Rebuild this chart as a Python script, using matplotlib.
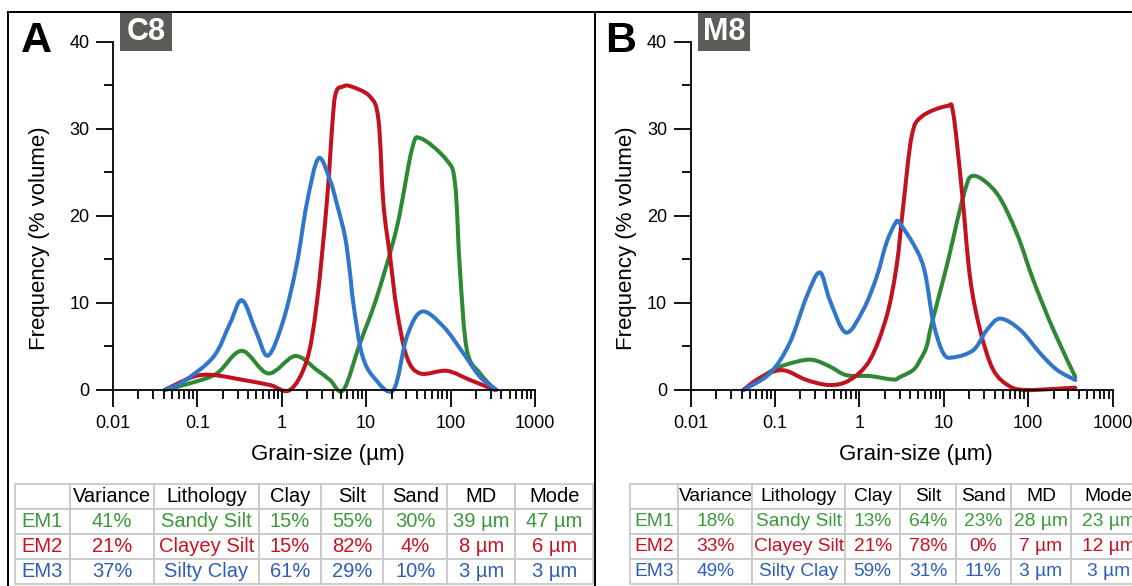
import matplotlib
matplotlib.use('Agg')
import numpy as np
import matplotlib.pyplot as plt
from matplotlib.lines import Line2D
from matplotlib.patches import Rectangle, PathPatch
from matplotlib.path import Path
from matplotlib.ticker import FixedLocator, FixedFormatter, LogLocator, NullFormatter, MultipleLocator

plt.rcParams['font.family'] = ['Liberation Sans', 'DejaVu Sans']

# ---------------------------------------------------------------
# Data (grain size in um, frequency in % volume)
# ---------------------------------------------------------------
# Panel A, core C8
a_em1_x = [0.041, 0.082, 0.170, 0.336, 0.69, 1.44, 2.60, 3.73, 5.37, 8.47, 13.4, 23.1, 34.8, 44.4, 90, 113, 129, 156, 224, 337]
a_em1_y = [0, 0.77, 1.9, 4.5, 1.9, 3.9, 2.3, 1.15, 0, 5.4, 10.7, 18.7, 27.6, 28.9, 26.4, 23.7, 13.8, 4.6, 1.9, 0]
a_em2_x = [0.041, 0.090, 0.155, 0.351, 0.726, 1.25, 1.98, 2.60, 3.41, 4.09, 4.49, 5.14, 6.44, 11.1, 14.0, 16.0, 19.2, 23.1, 30.3, 43.6, 90, 170, 337]
a_em2_y = [0, 1.53, 1.72, 1.15, 0.57, 0, 3.4, 9.95, 21.4, 32.1, 34.4, 34.8, 34.9, 33.7, 31.0, 21.4, 15.3, 9.2, 3.8, 1.9, 2.2, 1.15, 0]
a_em3_x = [0.041, 0.068, 0.155, 0.244, 0.34, 0.506, 0.69, 1.045, 1.51, 1.98, 2.72, 3.73, 4.49, 5.62, 6.44, 7.05, 8.87, 12.2, 21, 30.3, 45.6, 82, 142, 224, 352]
a_em3_y = [0, 0.96, 3.8, 7.65, 10.3, 6.5, 3.95, 8.0, 14.5, 21.4, 26.6, 24.1, 21.4, 17.6, 13.4, 9.95, 4.2, 1.5, 0, 6.1, 9.0, 7.3, 4.2, 1.5, 0]

# Panel B, core M8
b_em1_x = [0.042, 0.0946, 0.180, 0.282, 0.446, 0.702, 1.33, 2.51, 3.03, 4.34, 5.24, 6.25, 7.21, 10.8, 17.0, 22.3, 42.3, 73.1, 115, 199, 361]
b_em1_y = [0, 2.3, 3.25, 3.45, 2.7, 1.7, 1.6, 1.2, 1.5, 2.3, 3.45, 5.0, 7.7, 14.2, 22.2, 24.6, 22.6, 18.0, 12.6, 6.9, 1.5]
b_em2_x = [0.042, 0.0601, 0.0946, 0.136, 0.236, 0.446, 0.769, 1.33, 2.09, 2.75, 3.30, 4.15, 5.46, 10.8, 12.9, 16.3, 20.4, 26.9, 38.6, 61.4, 96, 182, 361]
b_em2_y = [0, 1.15, 2.1, 2.2, 1.15, 0.57, 1.15, 3.45, 8.4, 14.2, 21.1, 29.1, 31.4, 32.6, 31.8, 23.0, 13.0, 6.9, 2.3, 0.38, 0, 0.1, 0.27]
b_em3_x = [0.042, 0.0865, 0.149, 0.236, 0.339, 0.446, 0.689, 1.107, 1.60, 2.09, 2.68, 3.03, 4.75, 6.0, 7.53, 9.89, 13.0, 22.5, 32.4, 46.7, 80.5, 139, 220, 361]
b_em3_y = [0, 1.9, 5.4, 10.7, 13.5, 10.3, 6.6, 9.2, 13.0, 16.9, 19.2, 19.1, 16.1, 13.4, 7.7, 4.2, 3.75, 4.6, 6.9, 8.2, 6.9, 4.2, 2.3, 1.15]

x_tick_vals = [0.01, 0.1, 1, 10, 100, 1000]
x_tick_labels = ['0.01', '0.1', '1', '10', '100', '1000']
y_tick_vals = [0, 10, 20, 30, 40]

table_header = ['', 'Variance', 'Lithology', 'Clay', 'Silt', 'Sand', 'MD', 'Mode']
table_a_rows = [['EM1', '41%', 'Sandy Silt', '15%', '55%', '30%', '39 µm', '47 µm'],
                ['EM2', '21%', 'Clayey Silt', '15%', '82%', '4%', '8 µm', '6 µm'],
                ['EM3', '37%', 'Silty Clay', '61%', '29%', '10%', '3 µm', '3 µm']]
table_b_rows = [['EM1', '18%', 'Sandy Silt', '13%', '64%', '23%', '28 µm', '23 µm'],
                ['EM2', '33%', 'Clayey Silt', '21%', '78%', '0%', '7 µm', '12 µm'],
                ['EM3', '49%', 'Silty Clay', '59%', '31%', '11%', '3 µm', '3 µm']]

LINE_COLORS = ['#2f8834', '#c3121f', '#2f76cc']
TEXT_COLORS = ['#3a9a3a', '#cc1020', '#2c5fba']

W, H = 1132, 586
fig = plt.figure(figsize=(W / 100, H / 100), dpi=100)


def fx(px):
    return px / W


def fy(py):
    return 1 - py / H


def smooth_path(xs, ys):
    # Catmull-Rom style bezier through every read point (in log-x space)
    lx = np.log10(xs)
    y = np.asarray(ys, dtype=float)
    n = len(lx)
    verts = [(lx[0], y[0])]
    codes = [Path.MOVETO]
    for i in range(n - 1):
        i0 = max(i - 1, 0)
        i3 = min(i + 2, n - 1)
        c1 = (lx[i] + (lx[i + 1] - lx[i0]) / 6, y[i] + (y[i + 1] - y[i0]) / 6)
        c2 = (lx[i + 1] - (lx[i3] - lx[i]) / 6, y[i + 1] - (y[i3] - y[i]) / 6)
        verts += [c1, c2, (lx[i + 1], y[i + 1])]
        codes += [Path.CURVE4] * 3
    verts = [(10 ** vx, vy) for vx, vy in verts]
    return Path(verts, codes)


def setup_axes(ax, label_x, xlab_x):
    ax.set_xscale('log')
    ax.set_xlim(0.01, 1000)
    ax.set_ylim(0, 40)
    for s in ['top', 'right']:
        ax.spines[s].set_visible(False)
    for s in ['left', 'bottom']:
        ax.spines[s].set_linewidth(1.3)
    ax.xaxis.set_major_locator(FixedLocator(x_tick_vals))
    ax.xaxis.set_major_formatter(FixedFormatter(x_tick_labels))
    ax.xaxis.set_minor_locator(LogLocator(base=10, subs=[2, 3, 4, 5, 6, 7, 8, 9], numticks=20))
    ax.xaxis.set_minor_formatter(NullFormatter())
    ax.yaxis.set_major_locator(FixedLocator(y_tick_vals))
    ax.yaxis.set_minor_locator(MultipleLocator(5))
    ax.tick_params(which='major', direction='out', length=12, width=1.3, labelsize=13, pad=5)
    ax.tick_params(which='minor', direction='out', length=6.5, width=1.3)
    ax.tick_params(axis='x', which='major', pad=6)
    ax.set_xlabel('Grain-size (µm)', fontsize=16)
    ax.set_ylabel('Frequency (% volume)', fontsize=16)
    ax.xaxis.set_label_coords(xlab_x, -0.184)
    ax.xaxis.label.set_va('center')
    ax.yaxis.set_label_coords(label_x, 0.435)
    ax.yaxis.label.set_va('center')


def draw_curves(ax, xs_list, ys_list):
    for xs, ys, col in zip(xs_list, ys_list, LINE_COLORS):
        patch = PathPatch(smooth_path(xs, ys), facecolor='none', edgecolor=col,
                          linewidth=2.9, joinstyle='round', capstyle='round', clip_on=False)
        ax.add_patch(patch)


def draw_table(rect, rows, col_widths, fsize):
    tax = fig.add_axes(rect)
    tax.axis('off')
    cells = [table_header] + rows
    tot = sum(col_widths)
    tab = tax.table(cellText=cells, colWidths=[w / tot for w in col_widths],
                    cellLoc='center', bbox=[0, 0, 1, 1])
    tab.auto_set_font_size(False)
    for (r, c), cell in tab.get_celld().items():
        cell.set_edgecolor('#c8c8c8')
        cell.set_linewidth(1.3)
        cell.set_facecolor('white')
        cell.PAD = 0.02
        cell.get_text().set_fontsize(fsize)
        if r == 0:
            cell.get_text().set_color('black')
        else:
            cell.get_text().set_color(TEXT_COLORS[r - 1])
    return tab


# ---------------- Panel A ----------------
ax_a = fig.add_axes([fx(112.9), fy(390), fx(535) - fx(112.9), fy(41.7) - fy(390)])
draw_curves(ax_a, [a_em1_x, a_em2_x, a_em3_x], [a_em1_y, a_em2_y, a_em3_y])
setup_axes(ax_a, -0.173, 0.51)

# ---------------- Panel B ----------------
ax_b = fig.add_axes([fx(690.7), fy(390), fx(1112.6) - fx(690.7), fy(41.7) - fy(390)])
draw_curves(ax_b, [b_em1_x, b_em2_x, b_em3_x], [b_em1_y, b_em2_y, b_em3_y])
setup_axes(ax_b, -0.153, 0.533)

# ---------------- Tables ----------------
draw_table([fx(14.5), fy(584), fx(593) - fx(14.5), fy(483.5) - fy(584)],
           table_a_rows, [55.5, 84.2, 104.5, 62, 62.8, 63.5, 68.5, 77.5], 14.5)
draw_table([fx(629.8), fy(584), fx(1146) - fx(629.8), fy(483.5) - fy(584)],
           table_b_rows, [48.7, 74, 92.6, 55.3, 55.3, 55.3, 60.2, 75], 13.8)

# ---------------- Frames and panel labels ----------------
frame_kw = dict(color='black', linewidth=1.4, transform=fig.transFigure)
fig.add_artist(Line2D([fx(8.4), fx(W)], [fy(11.7), fy(11.7)], **frame_kw))
fig.add_artist(Line2D([fx(8.4), fx(8.4)], [fy(11.7), fy(H)], **frame_kw))
fig.add_artist(Line2D([fx(595), fx(595)], [fy(11.7), fy(H)], **frame_kw))

for letter, lx, tag, bx0, bx1 in [('A', 36.5, 'C8', 120.5, 172), ('B', 621, 'M8', 698, 750)]:
    fig.text(fx(lx), fy(41.5), letter, fontsize=31, fontweight='bold',
             ha='center', va='center')
    fig.add_artist(Rectangle((fx(bx0), fy(51)), fx(bx1) - fx(bx0), fy(12) - fy(51),
                             transform=fig.transFigure, facecolor='#5b5b58', edgecolor='none'))
    fig.text(fx((bx0 + bx1) / 2), fy(31.5), tag, fontsize=22, fontweight='bold',
             color='white', ha='center', va='center')

fig.savefig('out.png', dpi=100)
